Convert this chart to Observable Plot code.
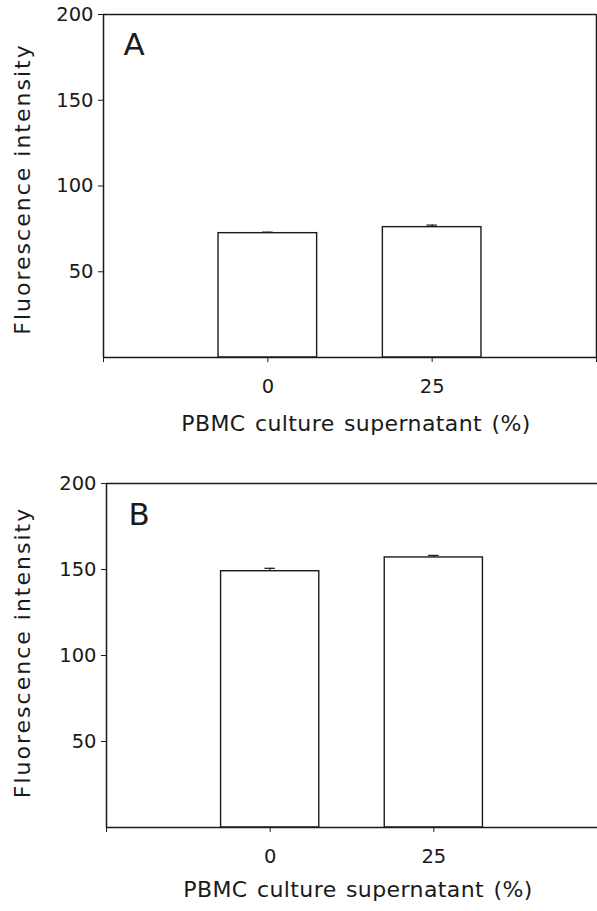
<!DOCTYPE html>
<html>
<head>
<meta charset="utf-8">
<script src="https://cdn.jsdelivr.net/npm/d3@7"></script>
<script src="https://cdn.jsdelivr.net/npm/@observablehq/plot@0.6"></script>
<style>
  body { margin: 0; background: #fff; }
  #chart { width: 597px; }
  svg { display: block; }
</style>
</head>
<body>
<div id="chart"></div>
<script>
// ---- data ----
const concentrations = [0, 25];            // PBMC culture supernatant (%)
const intensityA = [72.5, 76];             // panel A means
const errorA = [0.6, 1.2];                 // panel A error (upper)
const intensityB = [149, 157];             // panel B means
const errorB = [1.7, 1.2];                 // panel B error (upper)
const panelLabels = ["A", "B"];
const xTicks = [-25, 0, 25, 50];
const xTickLabels = ["", "0", "25", ""];
const yTicks = [50, 100, 150, 200];
const yTitle = "Fluorescence intensity";
const xTitle = "PBMC culture supernatant (%)";

const barHalf = 7.5;   // half bar width in x units
const capHalf = 0.8;   // half error cap width in x units
const ink = "#1a1a1a";
const font = "'DejaVu Sans', Verdana, sans-serif";

function panel(values, errors, label, opts) {
  const data = concentrations.map((c, i) => ({c, v: values[i], e: errors[i]}));
  const fmt = d => xTickLabels[xTicks.indexOf(d)];
  const marks = [
    Plot.rectY(data, {x1: d => d.c - barHalf, x2: d => d.c + barHalf, y1: 0, y2: "v",
      fill: "white", stroke: ink, strokeWidth: 1.4}),
    Plot.ruleX(data, {x: "c", y1: "v", y2: d => d.v + d.e, stroke: ink, strokeWidth: 1.2}),
    Plot.ruleY(data, {y: d => d.v + d.e, x1: d => d.c - capHalf, x2: d => d.c + capHalf, stroke: ink, strokeWidth: 1.2}),
    Plot.axisY({ticks: yTicks, tickSize: 5, tickPadding: 5, label: null, fontSize: 19.5, stroke: ink}),
    Plot.axisX({ticks: xTicks, tickFormat: fmt, tickSize: 5, tickPadding: 17, label: null, fontSize: 19.5, stroke: ink}),
    Plot.ruleX([xTicks[0]], {stroke: ink, strokeWidth: 1.5}),
    Plot.ruleY([0], {stroke: ink, strokeWidth: 1.5}),
    Plot.ruleY([200], {stroke: ink, strokeWidth: 1.5}),
    Plot.text([label], {frameAnchor: "top-left", dx: opts.lx, dy: opts.ly, fontSize: 31,
      textAnchor: "start", lineAnchor: "top", fill: ink}),
    Plot.text([yTitle], {frameAnchor: "left", rotate: -90, dx: opts.yx, dy: opts.yy,
      textAnchor: "middle", lineAnchor: "middle", fontSize: 22, fill: ink}),
    Plot.text([xTitle], {frameAnchor: "bottom", dx: opts.tx, dy: opts.ty,
      textAnchor: "middle", lineAnchor: "middle", fontSize: 22, fill: ink})
  ];
  if (opts.rightRule) marks.push(Plot.ruleX([xTicks[xTicks.length - 1]], {stroke: ink, strokeWidth: 1.5}));
  const svg = Plot.plot({
    width: 597,
    height: opts.height,
    marginTop: opts.mt,
    marginLeft: opts.ml,
    marginRight: opts.mr,
    marginBottom: opts.mb,
    style: {fontFamily: font, color: ink, background: "white", overflow: "visible"},
    x: {type: "linear", domain: [xTicks[0], xTicks[xTicks.length - 1]]},
    y: {domain: [0, 200]},
    marks
  });
  // letter spacing for the axis titles
  d3.select(svg).selectAll("text").each(function () {
    const t = this.textContent;
    if (t === yTitle) this.setAttribute("letter-spacing", "2");
    if (t === xTitle) { this.setAttribute("letter-spacing", "0.4"); this.setAttribute("word-spacing", "2"); }
  });
  return svg;
}

const chart = document.getElementById("chart");
chart.append(panel(intensityA, errorA, panelLabels[0],
  {height: 440, mt: 14, ml: 103, mr: 1, mb: 83, lx: 20, ly: 18, yx: -81, yy: 3, tx: 6, ty: 66, rightRule: true}));
chart.append(panel(intensityB, errorB, panelLabels[1],
  {height: 471, mt: 43, ml: 106, mr: 0, mb: 84, lx: 22, ly: 19, yx: -84, yy: -3, tx: 6, ty: 62, rightRule: false}));
</script>
</body>
</html>
